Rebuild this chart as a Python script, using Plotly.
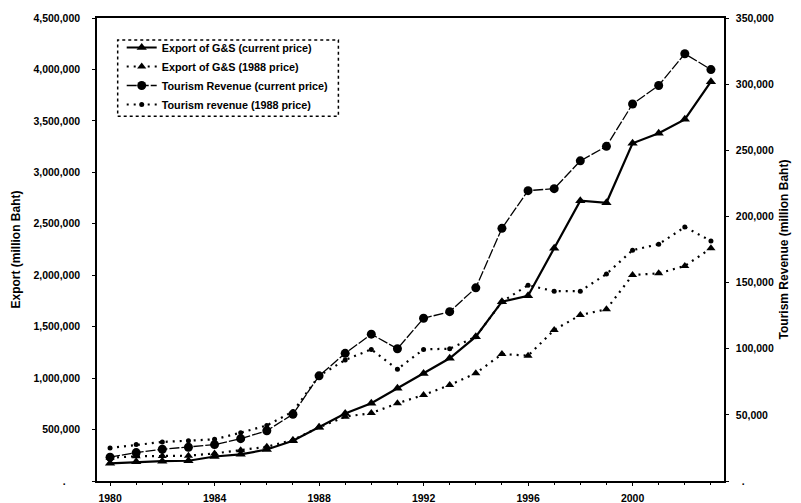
import plotly.graph_objects as go
from plotly.subplots import make_subplots

years = list(range(1980, 2004))

export_current = [172000, 186000, 193000, 197000, 238000, 259000, 306000, 392000,
                  522000, 656000, 755000, 901000, 1046000, 1193000, 1403000, 1743000,
                  1801000, 2262000, 2724000, 2704000, 3282000, 3379000, 3515000, 3881000]
export_1988 = [226000, 240000, 243000, 246000, 268000, 300000, 333000, 398000,
               522000, 625000, 660000, 755000, 836000, 933000, 1047000, 1234000,
               1218000, 1468000, 1613000, 1669000, 2002000, 2018000, 2090000, 2261000]
tourism_current = [18000, 21500, 24000, 25500, 27500, 32000, 38000, 50500,
                   79500, 96500, 111000, 100000, 123000, 128000, 146000, 191000,
                   219500, 221000, 242000, 253000, 285000, 299000, 323000, 311000]
tourism_1988 = [25000, 27500, 29500, 30500, 31500, 36500, 42000, 52500,
                79500, 91500, 99500, 84500, 99500, 100000, 109000, 135500,
                148000, 143500, 143500, 156500, 174500, 179000, 192000, 181500]

series_names = ["Export of G&S (current price)", "Export of G&S (1988 price)",
                "Tourism Revenue (current price)", "Tourism revenue (1988 price)"]

left_ticks = list(range(0, 4500001, 500000))
right_ticks = list(range(0, 350001, 50000))
x_ticks = [1980, 1984, 1988, 1992, 1996, 2000]

FONT = "Liberation Sans, Arial, sans-serif"

fig = make_subplots(specs=[[{"secondary_y": True}]])

fig.add_trace(go.Scatter(
    x=years, y=export_current, name=series_names[0], mode="lines+markers",
    line=dict(color="black", width=2.2),
    marker=dict(symbol="triangle-up", size=9, color="black")), secondary_y=False)
fig.add_trace(go.Scatter(
    x=years, y=export_1988, name=series_names[1], mode="lines+markers",
    line=dict(color="black", width=2.2, dash="2px,5px"),
    marker=dict(symbol="triangle-up", size=8, color="black")), secondary_y=False)
fig.add_trace(go.Scatter(
    x=years, y=tourism_current, name=series_names[2], mode="lines+markers",
    line=dict(color="black", width=1.3, dash="10px,2px"),
    marker=dict(symbol="circle", size=9, color="black")), secondary_y=True)
fig.add_trace(go.Scatter(
    x=years, y=tourism_1988, name=series_names[3], mode="lines+markers",
    line=dict(color="black", width=2.2, dash="2px,5px"),
    marker=dict(symbol="circle", size=5, color="black")), secondary_y=True)

tick_font = dict(family=FONT, size=10.5, color="black", weight="bold")
title_font = dict(family=FONT, size=12, color="black", weight="bold")

fig.update_xaxes(
    domain=[0, 1],
    range=[1979.5, 2003.5], tickvals=x_ticks, ticktext=[str(v) for v in x_ticks],
    showline=True, linecolor="black", linewidth=1.5, mirror=True,
    ticks="outside", ticklen=3, tickcolor="black", ticklabelstandoff=4,
    minor=dict(dtick=1, ticks="outside", ticklen=2, tickcolor="black"),
    showgrid=False, zeroline=False, tickfont=tick_font, automargin=False)

fig.update_yaxes(
    range=[0, 4500000], tickvals=left_ticks,
    ticktext=[".\u00a0\u00a0\u00a0\u00a0\u00a0" if v == 0 else f"{v:,}" for v in left_ticks],
    showline=True, linecolor="black", linewidth=1.5,
    ticks="outside", ticklen=3, tickcolor="black", ticklabelstandoff=10,
    showgrid=False, zeroline=False, tickfont=tick_font, automargin=False,
    title=dict(text="Export (million Baht)", standoff=10, font=title_font),
    secondary_y=False)

fig.update_yaxes(
    range=[0, 350000], tickvals=right_ticks,
    ticktext=["\u00a0\u00a0." if v == 0 else f"{v:,}" for v in right_ticks],
    showline=True, linecolor="black", linewidth=1.5,
    ticks="outside", ticklen=3, tickcolor="black", ticklabelstandoff=5,
    showgrid=False, zeroline=False, tickfont=tick_font, automargin=False,
    title=dict(text="Tourism Revenue (million Baht)", standoff=7, font=title_font),
    secondary_y=True)

fig.update_layout(
    width=801, height=503,
    margin=dict(l=97, r=77, t=18, b=22, autoexpand=False),
    paper_bgcolor="white", plot_bgcolor="white",
    font=dict(family=FONT, color="black"),
    showlegend=True,
    legend=dict(x=0.0394, y=0.9676, xanchor="left", yanchor="top",
                bgcolor="rgba(0,0,0,0)", borderwidth=0,
                font=dict(family=FONT, size=10.8, color="black", weight="bold"),
                tracegroupgap=0),
)

fig.add_shape(type="rect", xref="paper", yref="paper",
              x0=0.033, x1=0.385, y0=0.788, y1=0.9525,
              line=dict(color="black", width=1.5, dash="dot"))

fig.write_html(
    "out.html",
    config={"displayModeBar": False},
    post_script=("document.body.style.margin='0';"
                 "document.body.style.padding='0';"
                 "document.documentElement.style.overflow='hidden';"))
